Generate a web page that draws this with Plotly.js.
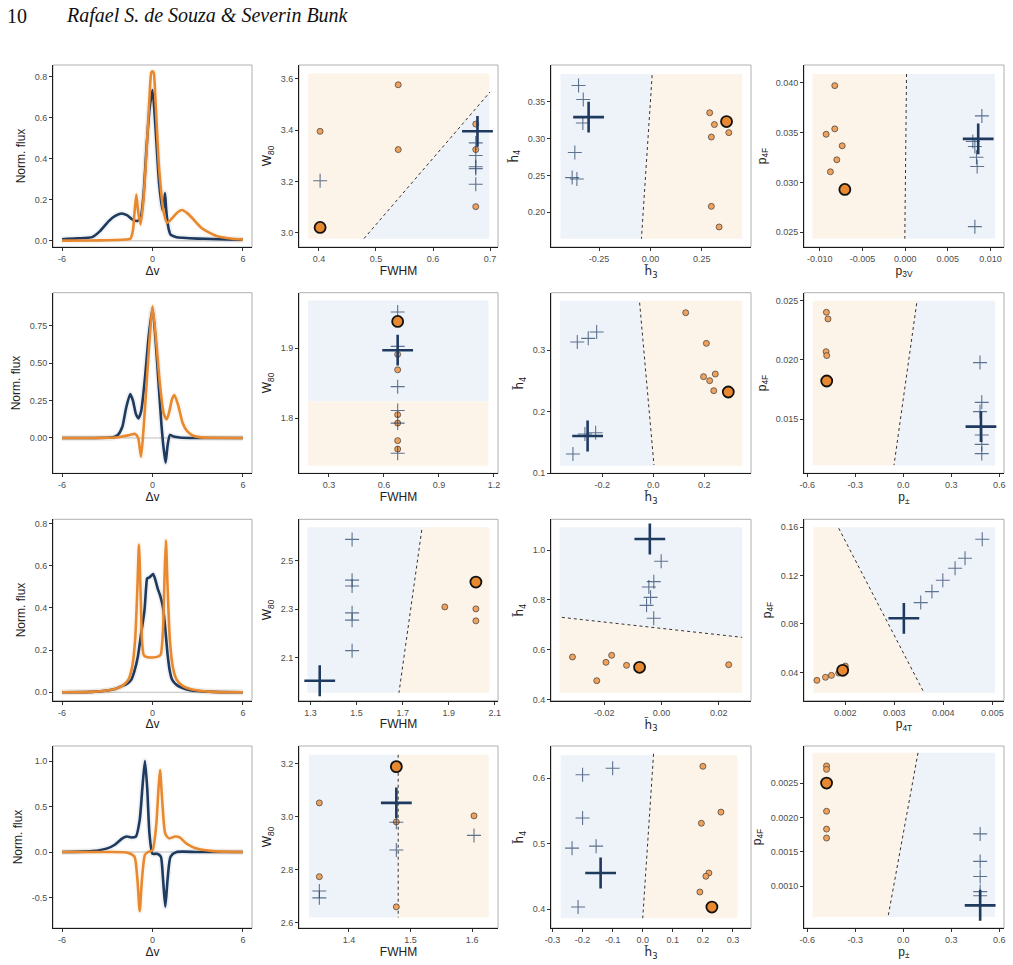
<!DOCTYPE html>
<html><head><meta charset="utf-8">
<script src="https://cdn.plot.ly/plotly-3.0.1.min.js"></script>
<style>html,body{margin:0;padding:0;background:#fff}#plot{width:1013px;height:965px}</style>
</head><body><div id="plot"></div>
<script>
// ---------------- DATA ----------------
// Column 1: line profiles (Δv vs normalized flux)
const r1_blue_x = [-6,-5,-4,-3.5,-2.9,-2.5,-2.06,-1.7,-1.35,-1.02,-0.8,-0.6,-0.4,-0.2,0,0.2,0.44,0.66,0.75,0.83,0.9,0.98,1.1,1.2,1.6,2,3,4,5,6];
const r1_blue_y = [0.008,0.012,0.018,0.046,0.096,0.12,0.133,0.125,0.105,0.097,0.11,0.22,0.45,0.64,0.735,0.55,0.28,0.15,0.17,0.233,0.16,0.1,0.05,0.03,0.018,0.015,0.011,0.009,0.007,0.005];
const r1_orange_x = [-6,-4,-3,-2,-1.6,-1.45,-1.3,-1.18,-1.07,-0.95,-0.79,-0.6,-0.4,-0.2,-0.08,0,0.08,0.2,0.44,0.77,0.98,1.3,1.6,1.95,2.3,2.65,3.3,4.2,5.3,6];
const r1_orange_y = [0.001,0.002,0.003,0.005,0.008,0.012,0.05,0.15,0.226,0.14,0.08,0.2,0.43,0.7,0.82,0.826,0.82,0.68,0.35,0.13,0.088,0.11,0.135,0.15,0.135,0.11,0.06,0.025,0.01,0.006];

const r2_blue_x = [-6,-4,-3,-2.6,-2.3,-2.0,-1.75,-1.48,-1.3,-1.1,-0.93,-0.75,-0.5,-0.25,0,0.2,0.4,0.6,0.75,0.87,1.0,1.16,1.4,1.8,2.5,4,6];
const r2_blue_y = [0,0,0.001,0.005,0.02,0.075,0.2,0.293,0.25,0.16,0.131,0.18,0.4,0.68,0.865,0.66,0.37,0.08,-0.08,-0.165,-0.05,0.02,0.01,0.003,0,0,0];
const r2_orange_x = [-6,-4,-3,-2.5,-2,-1.5,-1.15,-0.95,-0.76,-0.6,-0.4,-0.2,0,0.25,0.5,0.75,0.94,1.1,1.3,1.45,1.7,2.0,2.3,2.7,3.2,4,6];
const r2_orange_y = [0,0,0.001,0.003,0.01,0.02,0.027,0.0,-0.125,0.05,0.35,0.65,0.88,0.64,0.35,0.16,0.125,0.17,0.26,0.287,0.22,0.1,0.045,0.015,0.004,0.001,0];

const r3_blue_x = [-6,-4,-3,-2.5,-2,-1.7,-1.4,-1.2,-0.97,-0.75,-0.53,-0.42,-0.35,-0.2,-0.05,0.05,0.2,0.35,0.5,0.7,0.85,1.0,1.15,1.3,1.6,2,2.5,3,4,6];
const r3_blue_y = [0,0.002,0.008,0.015,0.03,0.04,0.06,0.1,0.17,0.28,0.39,0.5,0.54,0.545,0.555,0.56,0.53,0.49,0.46,0.4,0.3,0.18,0.1,0.06,0.035,0.02,0.01,0.006,0.002,0];
const r3_orange_x = [-6,-4,-3,-2.5,-2,-1.6,-1.35,-1.15,-1.0,-0.9,-0.8,-0.7,-0.6,-0.5,0,0.4,0.55,0.7,0.8,0.89,1.0,1.15,1.35,1.6,2,2.5,3,4,6];
const r3_orange_y = [0,0.002,0.008,0.015,0.03,0.06,0.12,0.25,0.5,0.70,0.5,0.25,0.18,0.17,0.165,0.17,0.18,0.3,0.55,0.72,0.5,0.25,0.12,0.06,0.03,0.015,0.008,0.002,0];

const r4_blue_x = [-6,-4,-3,-2.5,-2,-1.7,-1.4,-1.1,-0.85,-0.65,-0.5,-0.35,-0.2,0,0.3,0.55,0.7,0.85,1.0,1.2,1.6,3,6];
const r4_blue_y = [0,0.01,0.04,0.08,0.15,0.17,0.16,0.17,0.35,0.75,1.0,0.7,0.2,-0.02,-0.02,-0.05,-0.3,-0.6,-0.3,-0.05,0,0,0];
const r4_orange_x = [-6,-3,-1.6,-1.2,-1.0,-0.85,-0.7,-0.5,-0.3,0,0.25,0.4,0.5,0.65,0.85,1.1,1.5,1.8,2.2,2.6,3,4,6];
const r4_orange_y = [0,0,-0.01,-0.05,-0.3,-0.65,-0.3,-0.03,0,0.02,0.3,0.7,0.9,0.55,0.2,0.15,0.17,0.16,0.1,0.06,0.035,0.01,0];

// Columns 2-4: classification scatter panels
// r1c2: FWHM vs W80
const r1c2_orange_x=[0.402,0.539,0.539,0.675,0.675,0.675];
const r1c2_orange_y=[3.395,3.576,3.324,3.423,3.324,3.102];
const r1c2_blue_x=[0.402,0.675,0.675,0.675,0.675,0.675];
const r1c2_blue_y=[3.203,3.350,3.301,3.257,3.250,3.189];
const r1c2_bigO=[0.402,3.021], r1c2_bigB=[0.678,3.395];
const r1c2_line=[[0.479,2.978],[0.70,3.548]];
const r1c2_box=[0.381,0.699,2.977,3.62];
// r1c3: h3 vs h4
const r1c3_orange_x=[0.288,0.311,0.296,0.381,0.296,0.334];
const r1c3_orange_y=[0.335,0.319,0.302,0.308,0.208,0.180];
const r1c3_blue_x=[-0.350,-0.327,-0.329,-0.368,-0.381,-0.358];
const r1c3_blue_y=[0.372,0.353,0.321,0.281,0.247,0.245];
const r1c3_bigO=[0.370,0.323], r1c3_bigB=[-0.301,0.329];
const r1c3_line=[[0.008,0.386],[-0.044,0.164]];
const r1c3_box=[-0.438,0.446,0.164,0.3876];
// r1c4: p3V vs p4F
const r1c4_orange_x=[-0.00824,-0.00824,-0.00925,-0.00737,-0.0080,-0.00875];
const r1c4_orange_y=[0.0397,0.03537,0.03483,0.03367,0.03227,0.03107];
const r1c4_blue_x=[0.00898,0.00792,0.00816,0.00835,0.00843,0.00816];
const r1c4_blue_y=[0.03667,0.0341,0.0336,0.03253,0.0316,0.02557];
const r1c4_bigO=[-0.00706,0.0293], r1c4_bigB=[0.00855,0.03437];
const r1c4_line=[[0.00016,0.04087],[-0.00004,0.02437]];
const r1c4_box=[-0.01086,0.01051,0.02437,0.04087];
// r2c2
const r2c2_orange_x=[0.675,0.675,0.675,0.675,0.675,0.675];
const r2c2_orange_y=[1.891,1.869,1.805,1.793,1.768,1.756];
const r2c2_blue_x=[0.675,0.675,0.675,0.675,0.675,0.675];
const r2c2_blue_y=[1.9514,1.9024,1.845,1.811,1.793,1.750];
const r2c2_bigO=[0.675,1.938], r2c2_bigB=[0.675,1.897];
const r2c2_line=[[0.186,1.8237],[1.17,1.8237]];
const r2c2_box=[0.186,1.17,1.732,1.968];
// r2c3
const r2c3_orange_x=[0.127,0.208,0.197,0.243,0.221,0.237];
const r2c3_orange_y=[0.3605,0.3108,0.2568,0.261,0.2503,0.234];
const r2c3_blue_x=[-0.298,-0.255,-0.222,-0.268,-0.226,-0.315];
const r2c3_blue_y=[0.313,0.3189,0.3292,0.1638,0.1659,0.1314];
const r2c3_bigO=[0.294,0.2319], r2c3_bigB=[-0.2575,0.1605];
const r2c3_line=[[-0.0536,0.3768],[0.0026,0.1135]];
const r2c3_box=[-0.366,0.349,0.1124,0.380];
// r2c4
const r2c4_orange_x=[-0.481,-0.471,-0.483,-0.479];
const r2c4_orange_y=[0.02402,0.02346,0.0207,0.02037];
const r2c4_blue_x=[0.479,0.490,0.479,0.490,0.490,0.490];
const r2c4_blue_y=[0.01978,0.01643,0.01565,0.01368,0.01289,0.01211];
const r2c4_bigO=[-0.479,0.01823], r2c4_bigB=[0.485,0.01438];
const r2c4_line=[[0.0833,0.02478],[-0.0583,0.01115]];
const r2c4_box=[-0.567,0.573,0.0111,0.025];
// r3c2
const r3c2_orange_x=[1.883,2.018,2.018];
const r3c2_orange_y=[2.3096,2.3014,2.252];
const r3c2_blue_x=[1.4805,1.4805,1.4805,1.4805,1.4805,1.4805];
const r3c2_blue_y=[2.588,2.420,2.396,2.285,2.255,2.129];
const r3c2_bigO=[2.018,2.412], r3c2_bigB=[1.340,2.005];
const r3c2_line=[[1.783,2.627],[1.684,1.955]];
const r3c2_box=[1.286,2.077,1.955,2.638];
// r3c3
const r3c3_orange_x=[-0.0311,-0.0226,-0.0194,-0.0174,-0.0122,0.0235];
const r3c3_orange_y=[0.5705,0.4752,0.549,0.5772,0.537,0.5396];
const r3c3_blue_x=[-0.0001,-0.00267,-0.0044,-0.0038,-0.0052,-0.0027];
const r3c3_blue_y=[0.9557,0.8738,0.8523,0.8107,0.7785,0.7262];
const r3c3_bigO=[-0.00765,0.5289], r3c3_bigB=[-0.00406,1.0456];
const r3c3_line=[[-0.0348,0.730],[0.0282,0.6497]];
const r3c3_box=[-0.0356,0.0282,0.4268,1.0926];
// r3c4
const r3c4_orange_x=[0.00142,0.001595,0.001717,0.001865,0.002];
const r3c4_orange_y=[0.0334,0.0359,0.0375,0.0394,0.0452];
const r3c4_blue_x=[0.003538,0.003767,0.003989,0.004239,0.004442,0.004793];
const r3c4_blue_y=[0.0977,0.1068,0.1162,0.1261,0.1344,0.1501];
const r3c4_bigO=[0.001946,0.0417], r3c4_bigB=[0.003194,0.0847];
const r3c4_line=[[0.001865,0.1592],[0.003605,0.02317]];
const r3c4_box=[0.001346,0.005055,0.02317,0.16];
// r4c2
const r4c2_orange_x=[1.352,1.352,1.477,1.477,1.603];
const r4c2_orange_y=[3.053,2.774,2.981,2.66,3.004];
const r4c2_blue_x=[1.477,1.477,1.352,1.352,1.603];
const r4c2_blue_y=[2.98,2.875,2.72,2.694,2.93];
const r4c2_bigO=[1.477,3.19], r4c2_bigB=[1.477,3.053];
const r4c2_line=[[1.48,3.235],[1.48,2.62]];
const r4c2_box=[1.335,1.627,2.62,3.235];
// r4c3
const r4c3_orange_x=[0.2,0.26,0.195,0.22,0.21,0.19];
const r4c3_orange_y=[0.618,0.548,0.531,0.455,0.45,0.426];
const r4c3_blue_x=[-0.2,-0.1,-0.2,-0.155,-0.235,-0.215];
const r4c3_blue_y=[0.605,0.615,0.539,0.496,0.493,0.403];
const r4c3_bigO=[0.23,0.403], r4c3_bigB=[-0.14,0.455];
const r4c3_line=[[0.036,0.637],[0.0,0.386]];
const r4c3_box=[-0.273,0.315,0.386,0.635];
// r4c4
const r4c4_orange_x=[-0.48,-0.48,-0.48,-0.48,-0.48];
const r4c4_orange_y=[0.00275,0.0027,0.00209,0.00183,0.0017];
const r4c4_blue_x=[0.48,0.48,0.48,0.48,0.48];
const r4c4_blue_y=[0.00176,0.00136,0.00114,0.00092,0.00086];
const r4c4_bigO=[-0.48,0.0025], r4c4_bigB=[0.48,0.00072];
const r4c4_line=[[0.0915,0.00294],[-0.096,0.00055]];
const r4c4_box=[-0.567,0.573,0.00055,0.00294];

// Tick labels
const t_dv=['-6','0','6'];
// ---------------- LAYOUT HELPERS ----------------
const W=1013,H=965;
const colsPx=[[53,252],[299,498],[551,751],[804,1004]];
const rowsPx=[[65,247],[292.7,473.3],[519.3,700.7],[746,928]];
const BLUE='#1E3A5F', ORANGE='#E8892F';
const BG_BLUE='#EEF3FA', BG_ORANGE='#FCF3E9';
const FONT='Liberation Sans, Arial, sans-serif';
const HT='h\u0303';

const panels=[
 // row 1
 {type:'line',bx:r1_blue_x,by:r1_blue_y,ox:r1_orange_x,oy:r1_orange_y,xr:[-6.6,6.6],yr:[-0.03,0.857],xt:[-6,0,6],xtt:t_dv,yt:[0,0.2,0.4,0.6,0.8],ytt:['0.0','0.2','0.4','0.6','0.8'],xl:'Δv',yl:'Norm. flux'},
 {type:'sc',d:'r1c2',side:'R',xr:[0.365,0.714],yr:[2.945,3.653],xt:[0.4,0.5,0.6,0.7],xtt:['0.4','0.5','0.6','0.7'],yt:[3.0,3.2,3.4,3.6],ytt:['3.0','3.2','3.4','3.6'],xl:'FWHM',yl:'W<sub>80</sub>'},
 {type:'sc',d:'r1c3',side:'L',xr:[-0.484,0.489],yr:[0.1528,0.3998],xt:[-0.25,0,0.25],xtt:['-0.25','0.00','0.25'],yt:[0.2,0.25,0.3,0.35],ytt:['0.20','0.25','0.30','0.35'],xl:HT+'<sub>3</sub>',yl:HT+'<sub>4</sub>',tf:'DejaVu Sans'},
 {type:'sc',d:'r1c4',side:'R',xr:[-0.01184,0.01157],yr:[0.02353,0.04177],xt:[-0.01,-0.005,0,0.005,0.01],xtt:['-0.010','-0.005','0.000','0.005','0.010'],yt:[0.025,0.03,0.035,0.04],ytt:['0.025','0.030','0.035','0.040'],xl:'p<sub>3V</sub>',yl:'p<sub>4F</sub>'},
 // row 2
 {type:'line',bx:r2_blue_x,by:r2_blue_y,ox:r2_orange_x,oy:r2_orange_y,xr:[-6.6,6.6],yr:[-0.236,0.97],xt:[-6,0,6],xtt:t_dv,yt:[0,0.25,0.5,0.75],ytt:['0.00','0.25','0.50','0.75'],xl:'Δv',yl:'Norm. flux'},
 {type:'sc',d:'r2c2',side:'A',noline:true,xr:[0.137,1.222],yr:[1.7214,1.979],xt:[0.3,0.6,0.9,1.2],xtt:['0.3','0.6','0.9','1.2'],yt:[1.8,1.9],ytt:['1.8','1.9'],xl:'FWHM',yl:'W<sub>80</sub>'},
 {type:'sc',d:'r2c3',side:'L',xr:[-0.401,0.383],yr:[0.1,0.393],xt:[-0.2,0,0.2],xtt:['-0.2','0.0','0.2'],yt:[0.1,0.2,0.3],ytt:['0.1','0.2','0.3'],xl:HT+'<sub>3</sub>',yl:HT+'<sub>4</sub>',tf:'DejaVu Sans'},
 {type:'sc',d:'r2c4',side:'R',xr:[-0.621,0.629],yr:[0.01045,0.02567],xt:[-0.6,-0.3,0,0.3,0.6],xtt:['-0.6','-0.3','0.0','0.3','0.6'],yt:[0.015,0.02,0.025],ytt:['0.015','0.020','0.025'],xl:'p<sub>±</sub>',yl:'p<sub>4F</sub>'},
 // row 3
 {type:'line',bx:r3_blue_x,by:r3_blue_y,ox:r3_orange_x,oy:r3_orange_y,xr:[-6.6,6.6],yr:[-0.04,0.82],xt:[-6,0,6],xtt:t_dv,yt:[0,0.2,0.4,0.6,0.8],ytt:['0.0','0.2','0.4','0.6','0.8'],xl:'Δv',yl:'Norm. flux'},
 {type:'sc',d:'r3c2',side:'L',xr:[1.25,2.114],yr:[1.9226,2.671],xt:[1.3,1.5,1.7,1.9,2.1],xtt:['1.3','1.5','1.7','1.9','2.1'],yt:[2.1,2.3,2.5],ytt:['2.1','2.3','2.5'],xl:'FWHM',yl:'W<sub>80</sub>'},
 {type:'sc',d:'r3c3',side:'A',xr:[-0.0386,0.0313],yr:[0.3946,1.1248],xt:[-0.02,0,0.02],xtt:['-0.02','0.00','0.02'],yt:[0.4,0.6,0.8,1.0],ytt:['0.4','0.6','0.8','1.0'],xl:HT+'<sub>3</sub>',yl:HT+'<sub>4</sub>',tf:'DejaVu Sans'},
 {type:'sc',d:'r3c4',side:'R',xr:[0.001157,0.005237],yr:[0.01655,0.1666],xt:[0.002,0.003,0.004,0.005],xtt:['0.002','0.003','0.004','0.005'],yt:[0.04,0.08,0.12,0.16],ytt:['0.04','0.08','0.12','0.16'],xl:'p<sub>4T</sub>',yl:'p<sub>4F</sub>'},
 // row 4
 {type:'line',bx:r4_blue_x,by:r4_blue_y,ox:r4_orange_x,oy:r4_orange_y,xr:[-6.6,6.6],yr:[-0.835,1.165],xt:[-6,0,6],xtt:t_dv,yt:[-0.5,0,0.5,1.0],ytt:['-0.5','0.0','0.5','1.0'],xl:'Δv',yl:'Norm. flux'},
 {type:'sc',d:'r4c2',side:'L',xr:[1.319,1.642],yr:[2.58,3.268],xt:[1.4,1.5,1.6],xtt:['1.4','1.5','1.6'],yt:[2.6,2.8,3.0,3.2],ytt:['2.6','2.8','3.0','3.2'],xl:'FWHM',yl:'W<sub>80</sub>'},
 {type:'sc',d:'r4c3',side:'L',xr:[-0.305,0.36],yr:[0.371,0.649],xt:[-0.3,-0.2,-0.1,0,0.1,0.2,0.3],xtt:['-0.3','-0.2','-0.1','0.0','0.1','0.2','0.3'],yt:[0.4,0.5,0.6],ytt:['0.4','0.5','0.6'],xl:HT+'<sub>3</sub>',yl:HT+'<sub>4</sub>',tf:'DejaVu Sans'},
 {type:'sc',d:'r4c4',side:'R',xr:[-0.621,0.629],yr:[0.00039,0.00304],xt:[-0.6,-0.3,0,0.3,0.6],xtt:['-0.6','-0.3','0.0','0.3','0.6'],yt:[0.001,0.0015,0.002,0.0025],ytt:['0.0010','0.0015','0.0020','0.0025'],xl:'p<sub>±</sub>',yl:'p<sub>4F</sub>'}
];
const DATA={
 r1c2:{ox:r1c2_orange_x,oy:r1c2_orange_y,bx:r1c2_blue_x,by:r1c2_blue_y,bo:r1c2_bigO,bb:r1c2_bigB,ln:r1c2_line,box:r1c2_box},
 r1c3:{ox:r1c3_orange_x,oy:r1c3_orange_y,bx:r1c3_blue_x,by:r1c3_blue_y,bo:r1c3_bigO,bb:r1c3_bigB,ln:r1c3_line,box:r1c3_box},
 r1c4:{ox:r1c4_orange_x,oy:r1c4_orange_y,bx:r1c4_blue_x,by:r1c4_blue_y,bo:r1c4_bigO,bb:r1c4_bigB,ln:r1c4_line,box:r1c4_box},
 r2c2:{ox:r2c2_orange_x,oy:r2c2_orange_y,bx:r2c2_blue_x,by:r2c2_blue_y,bo:r2c2_bigO,bb:r2c2_bigB,ln:r2c2_line,box:r2c2_box},
 r2c3:{ox:r2c3_orange_x,oy:r2c3_orange_y,bx:r2c3_blue_x,by:r2c3_blue_y,bo:r2c3_bigO,bb:r2c3_bigB,ln:r2c3_line,box:r2c3_box},
 r2c4:{ox:r2c4_orange_x,oy:r2c4_orange_y,bx:r2c4_blue_x,by:r2c4_blue_y,bo:r2c4_bigO,bb:r2c4_bigB,ln:r2c4_line,box:r2c4_box},
 r3c2:{ox:r3c2_orange_x,oy:r3c2_orange_y,bx:r3c2_blue_x,by:r3c2_blue_y,bo:r3c2_bigO,bb:r3c2_bigB,ln:r3c2_line,box:r3c2_box},
 r3c3:{ox:r3c3_orange_x,oy:r3c3_orange_y,bx:r3c3_blue_x,by:r3c3_blue_y,bo:r3c3_bigO,bb:r3c3_bigB,ln:r3c3_line,box:r3c3_box},
 r3c4:{ox:r3c4_orange_x,oy:r3c4_orange_y,bx:r3c4_blue_x,by:r3c4_blue_y,bo:r3c4_bigO,bb:r3c4_bigB,ln:r3c4_line,box:r3c4_box},
 r4c2:{ox:r4c2_orange_x,oy:r4c2_orange_y,bx:r4c2_blue_x,by:r4c2_blue_y,bo:r4c2_bigO,bb:r4c2_bigB,ln:r4c2_line,box:r4c2_box},
 r4c3:{ox:r4c3_orange_x,oy:r4c3_orange_y,bx:r4c3_blue_x,by:r4c3_blue_y,bo:r4c3_bigO,bb:r4c3_bigB,ln:r4c3_line,box:r4c3_box},
 r4c4:{ox:r4c4_orange_x,oy:r4c4_orange_y,bx:r4c4_blue_x,by:r4c4_blue_y,bo:r4c4_bigO,bb:r4c4_bigB,ln:r4c4_line,box:r4c4_box}
};

function clipHalf(poly,p1,p2,sign){
  const f=p=>sign*((p2[0]-p1[0])*(p[1]-p1[1])-(p2[1]-p1[1])*(p[0]-p1[0]));
  const out=[];
  for(let i=0;i<poly.length;i++){
    const a=poly[i],b=poly[(i+1)%poly.length];
    const fa=f(a),fb=f(b);
    if(fa>=0) out.push(a);
    if((fa>=0)!==(fb>=0)){const t=fa/(fa-fb);out.push([a[0]+t*(b[0]-a[0]),a[1]+t*(b[1]-a[1])]);}
  }
  return out;
}

const traces=[];
const layout={width:W,height:H,margin:{l:0,r:0,t:0,b:0},showlegend:false,paper_bgcolor:'#fff',plot_bgcolor:'rgba(0,0,0,0)',shapes:[],annotations:[],font:{family:FONT}};

panels.forEach((p,k)=>{
  const r=Math.floor(k/4),c=k%4;
  const id=k===0?'':String(k+1);
  const xa='x'+id, ya='y'+id;
  const xk='xaxis'+id, yk='yaxis'+id;
  const cp=colsPx[c], rp=rowsPx[r];
  const tfam=p.tf?p.tf:FONT;
  const common={showgrid:false,zeroline:false,showline:true,linecolor:'#1a1a1a',linewidth:1,ticks:'outside',ticklen:3,tickwidth:1,tickcolor:'#333',tickfont:{family:FONT,size:9,color:'#4d4d4d'},fixedrange:true};
  layout[xk]=Object.assign({},common,{domain:[cp[0]/W,cp[1]/W],anchor:ya,range:p.xr,tickmode:'array',tickvals:p.xt,ticktext:p.xtt,title:{text:p.xl,font:{family:tfam,size:12,color:'#222'},standoff:2}});
  layout[yk]=Object.assign({},common,{domain:[1-rp[1]/H,1-rp[0]/H],anchor:xa,range:p.yr,tickmode:'array',tickvals:p.yt,ticktext:p.ytt,title:{text:p.yl,font:{family:tfam,size:12,color:'#222'},standoff:6}});
  layout.shapes.push({type:'rect',xref:xa+' domain',yref:ya+' domain',x0:0,x1:1,y0:0,y1:1,line:{color:'#b0b0b0',width:1},layer:'below'});
  if(p.type==='line'){
    layout.shapes.push({type:'line',xref:xa+' domain',yref:ya,x0:0.05,x1:0.95,y0:0,y1:0,line:{color:'#bdbdbd',width:1},layer:'below'});
    [[p.bx,p.by,BLUE],[p.ox,p.oy,ORANGE]].forEach(([X,Y,col])=>{
      traces.push({type:'scatter',mode:'lines',x:X,y:Y,xaxis:xa,yaxis:ya,line:{color:col,width:6,shape:'spline',smoothing:0.6},opacity:0.07,hoverinfo:'skip'});
    });
    [[p.bx,p.by,BLUE],[p.ox,p.oy,ORANGE]].forEach(([X,Y,col])=>{
      traces.push({type:'scatter',mode:'lines',x:X,y:Y,xaxis:xa,yaxis:ya,line:{color:col,width:2.6,shape:'spline',smoothing:0.6},hoverinfo:'skip'});
    });
  } else {
    const D=DATA[p.d];
    const [x0,x1,y0,y1]=D.box;
    const rect=[[x0,y0],[x1,y0],[x1,y1],[x0,y1]];
    const p1=D.ln[0],p2=D.ln[1];
    const ref={L:[x0,(y0+y1)/2],R:[x1,(y0+y1)/2],A:[(x0+x1)/2,y1],B:[(x0+x1)/2,y0]}[p.side];
    const fr=(p2[0]-p1[0])*(ref[1]-p1[1])-(p2[1]-p1[1])*(ref[0]-p1[0]);
    const s=fr>=0?1:-1;
    const bluePoly=clipHalf(rect,p1,p2,s), orPoly=clipHalf(rect,p1,p2,-s);
    [[bluePoly,BG_BLUE],[orPoly,BG_ORANGE]].forEach(([poly,col])=>{
      if(poly.length<3) return;
      traces.push({type:'scatter',mode:'lines',x:poly.map(q=>q[0]).concat([poly[0][0]]),y:poly.map(q=>q[1]).concat([poly[0][1]]),xaxis:xa,yaxis:ya,fill:'toself',fillcolor:col,line:{width:0,color:col},hoverinfo:'skip'});
    });
    if(!p.noline){
      traces.push({type:'scatter',mode:'lines',x:[p1[0],p2[0]],y:[p1[1],p2[1]],xaxis:xa,yaxis:ya,line:{color:'#333',width:1,dash:'dot'},hoverinfo:'skip'});
    }
    traces.push({type:'scatter',mode:'markers',x:D.ox,y:D.oy,xaxis:xa,yaxis:ya,marker:{symbol:'circle',size:6,color:'#F0A25C',line:{color:'#3a3a3a',width:0.7}},hoverinfo:'skip'});
    traces.push({type:'scatter',mode:'markers',x:D.bx,y:D.by,xaxis:xa,yaxis:ya,marker:{symbol:'cross-thin',size:10,line:{color:'rgba(30,58,95,0.7)',width:1.1}},hoverinfo:'skip'});
    traces.push({type:'scatter',mode:'markers',x:[D.bo[0]],y:[D.bo[1]],xaxis:xa,yaxis:ya,marker:{symbol:'circle',size:11,color:ORANGE,line:{color:'#111',width:1.8}},hoverinfo:'skip'});
    traces.push({type:'scatter',mode:'markers',x:[D.bb[0]],y:[D.bb[1]],xaxis:xa,yaxis:ya,marker:{symbol:'cross-thin',size:22,line:{color:BLUE,width:2.6}},hoverinfo:'skip'});
  }
});

layout.annotations.push({xref:'paper',yref:'paper',x:5/W,y:1-16/H,xanchor:'left',yanchor:'middle',showarrow:false,text:'10',font:{family:'Liberation Serif, Times New Roman, serif',size:20,color:'#111'}});
layout.annotations.push({xref:'paper',yref:'paper',x:64/W,y:1-16/H,xanchor:'left',yanchor:'middle',showarrow:false,text:'<i>Rafael S. de Souza &amp; Severin Bunk</i>',font:{family:'Liberation Serif, Times New Roman, serif',size:20,color:'#111'}});

Plotly.newPlot('plot',traces,layout,{staticPlot:true});
</script></body></html>
